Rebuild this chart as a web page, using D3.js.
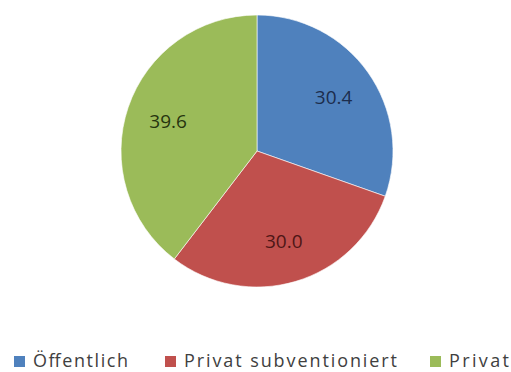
<!DOCTYPE html>
<html>
<head>
<meta charset="utf-8">
<script src="https://cdn.jsdelivr.net/npm/d3@7"></script>
<style>
  html, body { margin: 0; padding: 0; background: #fff; }
  svg { display: block; }
</style>
</head>
<body>
<svg id="chart" width="511" height="372"></svg>
<script>
const categories = ["Öffentlich", "Privat subventioniert", "Privat"];
const values = [30.4, 30.0, 39.6];
const labels = ["30.4", "30.0", "39.6"];
const colors = ["#4F81BD", "#C0504D", "#9BBB59"];
const labelColors = ["#1c2d4d", "#4e1616", "#26340f"];

const svg = d3.select("#chart");
const cx = 257, cy = 151, r = 136;

const pie = d3.pie().sort(null).value(d => d)(values);
const arc = d3.arc().innerRadius(0).outerRadius(r);
const labelArc = d3.arc().innerRadius(r * 0.69).outerRadius(r * 0.69);

const g = svg.append("g").attr("transform", `translate(${cx},${cy})`);
g.selectAll("path").data(pie).enter().append("path")
  .attr("d", arc)
  .attr("fill", (d, i) => colors[i])
  .attr("stroke", "#ffffff")
  .attr("stroke-opacity", 0.6)
  .attr("stroke-width", 1);

g.selectAll("text").data(pie).enter().append("text")
  .attr("transform", d => { const c = labelArc.centroid(d); return `translate(${c[0]},${c[1]})`; })
  .attr("text-anchor", "middle")
  .attr("dy", "0.36em")
  .attr("font-family", "Open Sans, sans-serif")
  .attr("font-size", 19)
  .attr("fill", (d, i) => labelColors[i])
  .text((d, i) => labels[i]);

// legend
const legendX = [14, 165, 430];
const legendW = [95, 213, 60];
const lg = svg.append("g");
categories.forEach((c, i) => {
  lg.append("rect").attr("x", legendX[i]).attr("y", 356).attr("width", 11).attr("height", 11)
    .attr("fill", colors[i]);
  lg.append("text").attr("x", legendX[i] + 19).attr("y", 367)
    .attr("font-family", "Open Sans, sans-serif")
    .attr("font-size", 18)
    .attr("fill", "#404040")
    .attr("textLength", legendW[i])
    .attr("lengthAdjust", "spacing")
    .text(c);
});
</script>
</body>
</html>
